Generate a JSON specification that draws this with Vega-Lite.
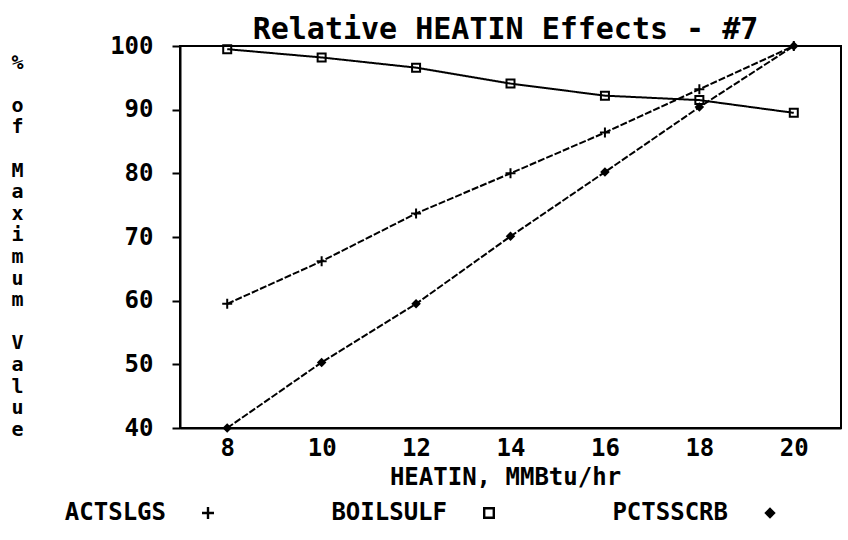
{
  "$schema": "https://vega.github.io/schema/vega-lite/v6.json",
  "width": 661,
  "height": 382,
  "autosize": "none",
  "padding": {"left": 180, "top": 46, "right": 7, "bottom": 112},
  "background": "white",
  "data": {
    "values": [
      {"series": "ACTSLGS", "heatin": 8, "pct": 59.5},
      {"series": "ACTSLGS", "heatin": 10, "pct": 66.2},
      {"series": "ACTSLGS", "heatin": 12, "pct": 73.7},
      {"series": "ACTSLGS", "heatin": 14, "pct": 80.0},
      {"series": "ACTSLGS", "heatin": 16, "pct": 86.4},
      {"series": "ACTSLGS", "heatin": 18, "pct": 93.2},
      {"series": "ACTSLGS", "heatin": 20, "pct": 100.0},
      {"series": "BOILSULF", "heatin": 8, "pct": 99.5},
      {"series": "BOILSULF", "heatin": 10, "pct": 98.2},
      {"series": "BOILSULF", "heatin": 12, "pct": 96.6},
      {"series": "BOILSULF", "heatin": 14, "pct": 94.1},
      {"series": "BOILSULF", "heatin": 16, "pct": 92.2},
      {"series": "BOILSULF", "heatin": 18, "pct": 91.5},
      {"series": "BOILSULF", "heatin": 20, "pct": 89.5},
      {"series": "PCTSSCRB", "heatin": 8, "pct": 40.0},
      {"series": "PCTSSCRB", "heatin": 10, "pct": 50.3},
      {"series": "PCTSSCRB", "heatin": 12, "pct": 59.5},
      {"series": "PCTSSCRB", "heatin": 14, "pct": 70.1},
      {"series": "PCTSSCRB", "heatin": 16, "pct": 80.2},
      {"series": "PCTSSCRB", "heatin": 18, "pct": 90.4},
      {"series": "PCTSSCRB", "heatin": 20, "pct": 100.0}
    ]
  },
  "resolve": {"axis": {"x": "independent"}},
  "layer": [
    {
      "mark": {"type": "line", "color": "black", "strokeWidth": 2},
      "encoding": {
        "x": {
          "field": "heatin",
          "type": "quantitative",
          "scale": {"domain": [7, 21], "nice": false, "zero": false},
          "axis": {
            "orient": "bottom",
            "title": "HEATIN, MMBtu/hr",
            "values": [8, 10, 12, 14, 16, 18, 20],
            "ticks": false,
            "tickSize": 0,
            "grid": false,
            "domainColor": "black",
            "domainWidth": 2,
            "labelPadding": 8,
            "labelFont": "DejaVu Sans Mono",
            "labelFontWeight": "bold",
            "labelFontSize": 24,
            "labelColor": "black",
            "labelFlush": false,
            "titleFont": "DejaVu Sans Mono",
            "titleFontWeight": "bold",
            "titleFontSize": 24,
            "titleColor": "black",
            "titleBaseline": "middle",
            "titleX": 325,
            "titleY": 49
          }
        },
        "y": {
          "field": "pct",
          "type": "quantitative",
          "scale": {"domain": [40, 100], "nice": false, "zero": false},
          "axis": {
            "title": ["%", "\u200b", "o", "f", "\u200b", "M", "a", "x", "i", "m", "u", "m", "\u200b", "V", "a", "l", "u", "e"],
            "values": [40, 50, 60, 70, 80, 90, 100],
            "grid": false,
            "tickSize": 8,
            "tickWidth": 2,
            "tickColor": "black",
            "domainColor": "black",
            "domainWidth": 2,
            "labelPadding": 19,
            "labelFont": "DejaVu Sans Mono",
            "labelFontWeight": "bold",
            "labelFontSize": 24,
            "labelColor": "black",
            "labelFlush": false,
            "titleFont": "DejaVu Sans Mono",
            "titleFontWeight": "bold",
            "titleFontSize": 20,
            "titleColor": "black",
            "titleAngle": 0,
            "titleAlign": "center",
            "titleBaseline": "top",
            "titleLineHeight": 21.6,
            "titleX": -163,
            "titleY": 6
          }
        },
        "detail": {"field": "series", "type": "nominal"},
        "strokeDash": {
          "condition": {"test": "datum.series === 'BOILSULF'", "value": [1, 0]},
          "value": [7, 2]
        }
      }
    },
    {
      "mark": {"type": "point", "filled": true, "color": "black", "strokeWidth": 0, "opacity": 1, "size": 100},
      "encoding": {
        "x": {
          "field": "heatin",
          "type": "quantitative",
          "axis": {
            "orient": "top",
            "title": "Relative HEATIN Effects - #7",
            "labels": false,
            "ticks": false,
            "domain": false,
            "grid": false,
            "titleFont": "DejaVu Sans Mono",
            "titleFontWeight": "bold",
            "titleFontSize": 30,
            "titleColor": "black",
            "titleBaseline": "alphabetic",
            "titleX": 325,
            "titleY": -8
          }
        },
        "y": {"field": "pct", "type": "quantitative"},
        "shape": {
          "field": "series",
          "type": "nominal",
          "scale": {
            "domain": ["ACTSLGS", "BOILSULF", "PCTSSCRB"],
            "range": [
              "M-1,-0.2H-0.2V-1H0.2V-0.2H1V0.2H0.2V1H-0.2V0.2H-1Z",
              "M-1,-1H1V1H-1ZM-0.6,-0.6V0.6H0.6V-0.6Z",
              "M0,-0.95L0.95,0L0,0.95L-0.95,0Z"
            ]
          },
          "legend": {
            "title": null,
            "orient": "none",
            "direction": "horizontal",
            "legendX": 16,
            "legendY": 455,
            "padding": 0,
            "columnPadding": 117,
            "labelFont": "DejaVu Sans Mono",
            "labelFontWeight": "bold",
            "labelFontSize": 24,
            "labelColor": "black",
            "labelLimit": 400,
            "labelAlign": "right",
            "labelOffset": -54,
            "symbolSize": 144,
            "symbolStrokeWidth": 0,
            "symbolFillColor": "black"
          }
        }
      }
    }
  ],
  "config": {
    "view": {"stroke": "black", "strokeWidth": 2},
    "font": "DejaVu Sans Mono"
  }
}
